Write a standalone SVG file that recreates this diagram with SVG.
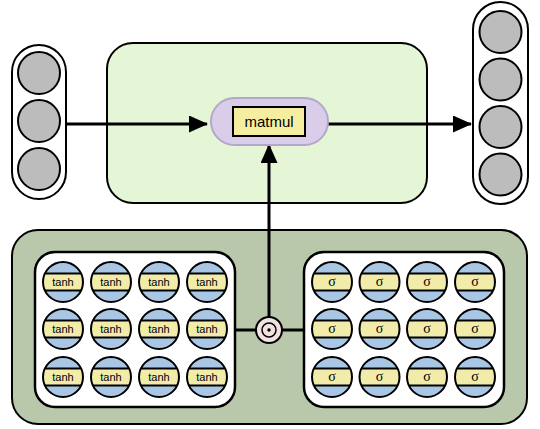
<svg xmlns="http://www.w3.org/2000/svg" xmlns:xlink="http://www.w3.org/1999/xlink" width="540" height="429" viewBox="0 0 540 429">
<style>
.pill{fill:#fff;stroke:#000;stroke-width:2}
.gray{fill:#bcbcbc;stroke:#000;stroke-width:2}
.conn{fill:none;stroke:#000;stroke-width:3}
.lbl{font-family:"Liberation Sans",Arial,sans-serif;font-size:11px;text-anchor:middle;fill:#000}
.sig{font-family:"Liberation Serif","DejaVu Serif",serif;font-size:14px;text-anchor:middle;fill:#000}
</style>
<defs>
<clipPath id="cc"><circle cx="0" cy="0" r="20"/></clipPath>
<marker id="ah" markerWidth="19" markerHeight="17" refX="18" refY="8.5" orient="auto" markerUnits="userSpaceOnUse" viewBox="0 0 19 17">
<path d="M0,0 L19,8.5 L0,17 Z" fill="#000"/>
</marker>
<g id="neuron">
<circle r="20" fill="#a9c7e4"/>
<rect x="-21" y="-8.5" width="42" height="17" fill="#f2ecaa" clip-path="url(#cc)"/>
<line x1="-18.2" y1="-8.5" x2="18.2" y2="-8.5" stroke="#000" stroke-width="2"/>
<line x1="-18.2" y1="8.5" x2="18.2" y2="8.5" stroke="#000" stroke-width="2"/>
<circle r="20" fill="none" stroke="#000" stroke-width="2"/>
</g>
</defs>

<g id="bottom-box">
<rect x="12" y="230" width="515" height="194" rx="26" fill="#b9c8aa" stroke="#000" stroke-width="2"/>
</g>

<g id="hidden-box">
<rect x="107" y="43" width="320" height="160" rx="26" fill="#e4f6d6" stroke="#000" stroke-width="2"/>
</g>

<g id="input">
<rect class="pill" x="12" y="45" width="54" height="154" rx="27"/>
<circle class="gray" cx="39" cy="73" r="21"/>
<circle class="gray" cx="39" cy="121" r="21"/>
<circle class="gray" cx="39" cy="169" r="21"/>
</g>

<g id="output">
<rect class="pill" x="473" y="2" width="55" height="202" rx="27.5"/>
<circle class="gray" cx="500.5" cy="32" r="21"/>
<circle class="gray" cx="500.5" cy="79.5" r="21"/>
<circle class="gray" cx="500.5" cy="127" r="21"/>
<circle class="gray" cx="500.5" cy="174.5" r="21"/>
</g>

<g id="connectors">
<line class="conn" x1="66" y1="124" x2="207" y2="124" marker-end="url(#ah)"/>
<line class="conn" x1="328" y1="124" x2="471" y2="124" marker-end="url(#ah)"/>
<line class="conn" x1="269" y1="317" x2="269" y2="145" marker-end="url(#ah)"/>
<line class="conn" x1="235" y1="330" x2="304" y2="330"/>
</g>

<g id="matmul">
<rect x="211" y="98" width="117" height="47" rx="23.5" fill="#d9cde9" stroke="#b4a6cc" stroke-width="2"/>
<rect x="233" y="107" width="72" height="29" fill="#f5eea0" stroke="#000" stroke-width="2"/>
<text x="269" y="127" font-family="Liberation Sans,Arial,sans-serif" font-size="15" text-anchor="middle">matmul</text>
</g>

<g id="hadamard">
<circle cx="269" cy="330" r="13" fill="#f2e2e2" stroke="#000" stroke-width="2"/>
<circle cx="269" cy="330" r="7" fill="none" stroke="#000" stroke-width="1.5"/>
<circle cx="269" cy="330" r="1.7" fill="#000"/>
</g>

<g id="tanh-layer">
<rect x="35" y="252" width="200" height="155" rx="20" fill="#fff" stroke="#000" stroke-width="2.5"/>
<use xlink:href="#neuron" x="63" y="282"/><use xlink:href="#neuron" x="111" y="282"/><use xlink:href="#neuron" x="159" y="282"/><use xlink:href="#neuron" x="207" y="282"/>
<use xlink:href="#neuron" x="63" y="329"/><use xlink:href="#neuron" x="111" y="329"/><use xlink:href="#neuron" x="159" y="329"/><use xlink:href="#neuron" x="207" y="329"/>
<use xlink:href="#neuron" x="63" y="377"/><use xlink:href="#neuron" x="111" y="377"/><use xlink:href="#neuron" x="159" y="377"/><use xlink:href="#neuron" x="207" y="377"/>
<text class="lbl" x="63" y="286">tanh</text><text class="lbl" x="111" y="286">tanh</text><text class="lbl" x="159" y="286">tanh</text><text class="lbl" x="207" y="286">tanh</text>
<text class="lbl" x="63" y="333">tanh</text><text class="lbl" x="111" y="333">tanh</text><text class="lbl" x="159" y="333">tanh</text><text class="lbl" x="207" y="333">tanh</text>
<text class="lbl" x="63" y="381">tanh</text><text class="lbl" x="111" y="381">tanh</text><text class="lbl" x="159" y="381">tanh</text><text class="lbl" x="207" y="381">tanh</text>
</g>

<g id="sigma-layer">
<rect x="304" y="252" width="200" height="155" rx="20" fill="#fff" stroke="#000" stroke-width="2.5"/>
<use xlink:href="#neuron" x="332" y="282"/><use xlink:href="#neuron" x="379.5" y="282"/><use xlink:href="#neuron" x="427" y="282"/><use xlink:href="#neuron" x="475" y="282"/>
<use xlink:href="#neuron" x="332" y="329"/><use xlink:href="#neuron" x="379.5" y="329"/><use xlink:href="#neuron" x="427" y="329"/><use xlink:href="#neuron" x="475" y="329"/>
<use xlink:href="#neuron" x="332" y="377"/><use xlink:href="#neuron" x="379.5" y="377"/><use xlink:href="#neuron" x="427" y="377"/><use xlink:href="#neuron" x="475" y="377"/>
<text class="sig" x="332" y="286">σ</text><text class="sig" x="379.5" y="286">σ</text><text class="sig" x="427" y="286">σ</text><text class="sig" x="475" y="286">σ</text>
<text class="sig" x="332" y="333">σ</text><text class="sig" x="379.5" y="333">σ</text><text class="sig" x="427" y="333">σ</text><text class="sig" x="475" y="333">σ</text>
<text class="sig" x="332" y="381">σ</text><text class="sig" x="379.5" y="381">σ</text><text class="sig" x="427" y="381">σ</text><text class="sig" x="475" y="381">σ</text>
</g>
</svg>
